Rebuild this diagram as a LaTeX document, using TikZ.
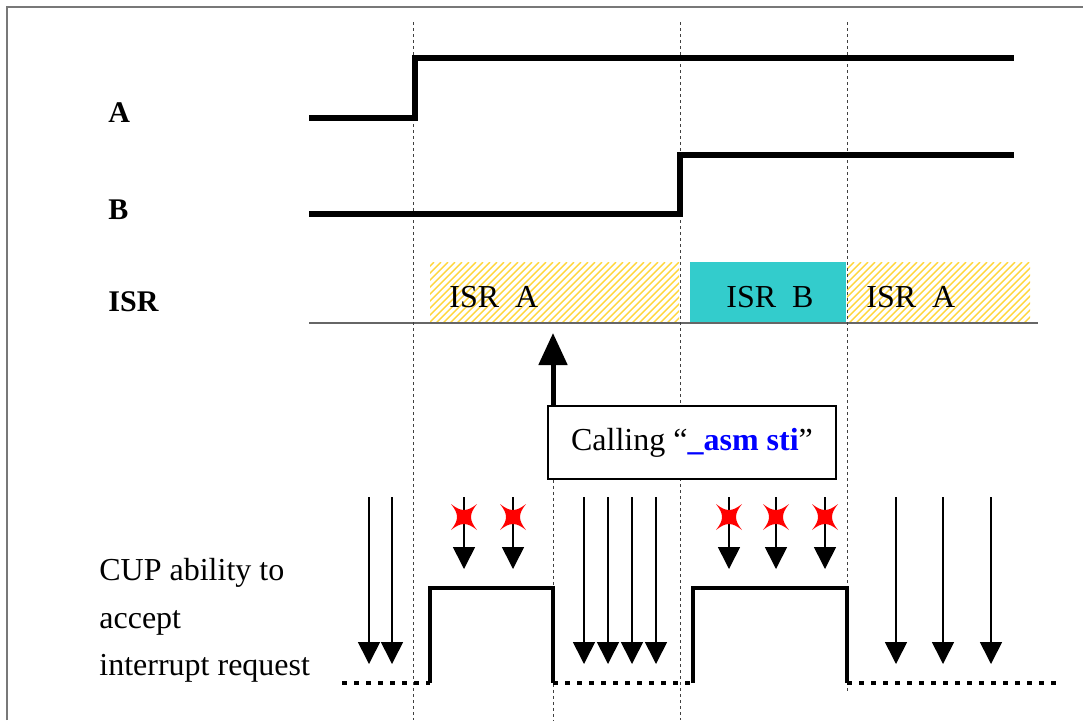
\documentclass[tikz,border=0pt]{standalone}
\usepackage{fontspec}
\setmainfont{Liberation Serif}
\usetikzlibrary{arrows.meta}
\definecolor{tealbox}{RGB}{51,204,204}
\definecolor{hatchy}{RGB}{255,214,60}
\definecolor{asmblue}{RGB}{0,0,255}
\definecolor{framegray}{RGB}{120,120,120}
\begin{document}
\begin{tikzpicture}[x=0.5pt,y=-0.5pt,
  sig/.style={line width=2.7pt},
  pulse/.style={line width=2.4pt},
  lowlevel/.style={line width=2.4pt, dash pattern=on 2.5pt off 3.5pt},
  guide/.style={line width=0.5pt, draw=black!75, dash pattern=on 1.5pt off 1.5pt},
  req/.style={line width=0.8pt, -{Triangle[width=11pt,length=11pt]}},
  lbl/.style={font=\fontsize{15}{18}\selectfont\bfseries, anchor=west, inner sep=0},
  isrtxt/.style={font=\fontsize{16}{19}\selectfont, anchor=west, inner sep=0},
  hatchline/.style={draw=hatchy, line width=0.7pt},
  xmark/.pic={\fill[red] (-13,-13) .. controls (-3,-5) and (3,-5) .. (13,-13)
      .. controls (5,-3) and (5,3) .. (13,13)
      .. controls (3,5) and (-3,5) .. (-13,13)
      .. controls (-5,3) and (-5,-3) .. (-13,-13) -- cycle;}
  ]
\useasboundingbox (0,0) rectangle (1083,720);
% frame
\draw[framegray, line width=0.75pt] (7,720) -- (7,7) -- (1083,7);

% ISR areas
\begin{scope}
  \clip (430,262) rectangle (679,323) (847,262) rectangle (1030,323);
  \foreach \i in {366,373,...,1036} \draw[hatchline] (\i,323) -- (\i+61,262);
\end{scope}
\fill[tealbox] (690,262) rectangle (846,323);
\draw[black!60, line width=0.6pt] (309,323) -- (1038,323);

% guide lines
\draw[guide] (413,22) -- (413,720);
\draw[guide] (680,22) -- (680,720);
\draw[guide] (847,22) -- (847,692);

% labels
\node[lbl] (lA) at (108,113) {A};
\node[lbl] (lB) at (108,210) {B};
\node[lbl] (lISR) at (108,302) {ISR};
\node[isrtxt] (isra1) at (449,297) {ISR~~A};
\node[isrtxt] (isrb) at (726,297) {ISR~~B};
\node[isrtxt] (isra2) at (866,297) {ISR~~A};

% signals A and B
\draw[sig] (309,118) -| (415,58) -- (1014,58);
\draw[sig] (309,214) -| (680,155) -- (1014,155);

% callout
\node[draw, line width=0.75pt, fill=white, minimum width=144pt, minimum height=36.5pt,
      inner sep=0, font=\fontsize{16}{19}\selectfont] (call) at (692,442.5)
      {Calling “\textcolor{asmblue}{\textbf{\_asm sti}}”};
\coordinate (isrtip) at (553,333);
\draw[line width=2.5pt, -{Triangle[width=14pt,length=16pt]}] (call.north -| isrtip) -- (isrtip);
\coordinate (gbot) at (553,720);
\draw[guide] (call.south -| gbot) -- (gbot);

% CPU ability text
\node[anchor=north west, inner sep=0, align=left, font=\fontsize{16}{23.75}\selectfont] (cup) at (99,558)
  {CUP ability to\\accept\\interrupt request};

% ability signal
\draw[lowlevel] (342,683) -- (430,683);
\draw[pulse] (430,683) -- (430,588) -- (553,588) -- (553,683);
\draw[lowlevel] (553,683) -- (693,683);
\draw[pulse] (693,683) -- (693,588) -- (847,588) -- (847,683);
\draw[lowlevel] (847,683) -- (1062,683);

% accepted requests
\foreach \x [count=\k] in {369,392,584,608,632,656,896,943,991} {
  \coordinate (rs\k) at (\x,497);
  \coordinate (re\k) at (\x,664);
  \draw[req] (rs\k) -- (re\k);
}
% rejected requests
\foreach \x [count=\k] in {464,513,729,776,825} {
  \coordinate (xs\k) at (\x,497);
  \coordinate (xe\k) at (\x,569);
  \draw[req] (xs\k) -- (xe\k);
  \pic at (\x,517) {xmark};
}
\end{tikzpicture}
\end{document}
